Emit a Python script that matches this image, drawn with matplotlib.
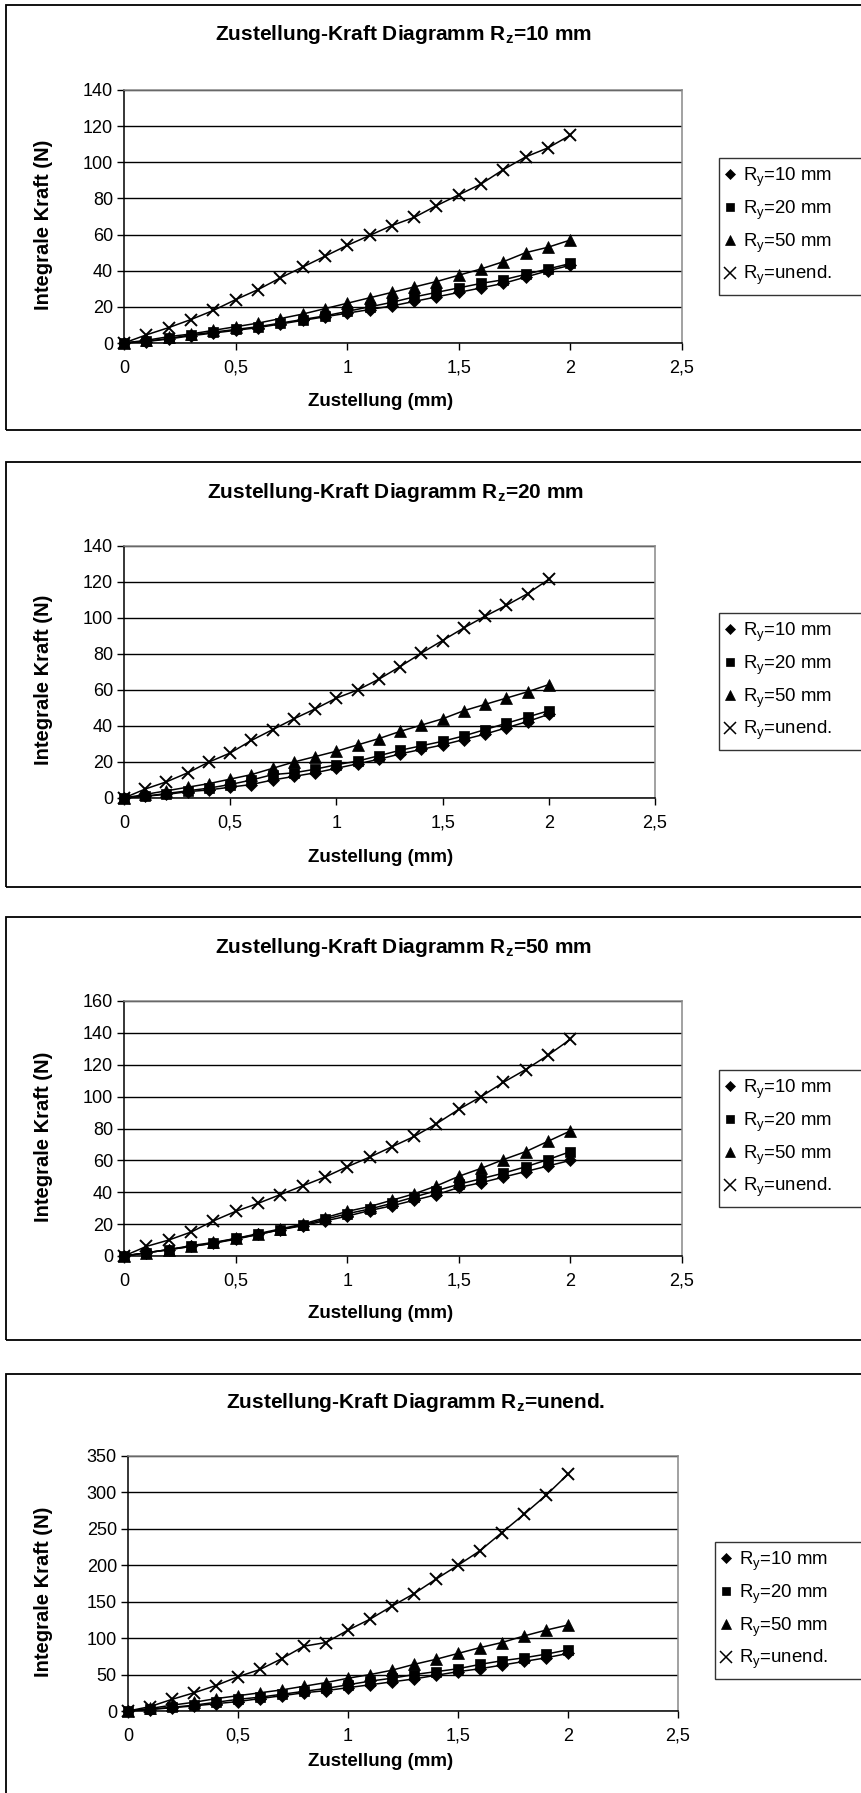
#Zustellung-Kraft Diagramme
#Four stacked Excel-style charts: integral force vs. feed for different radii

import numpy as np
import matplotlib
matplotlib.use('Agg')
import matplotlib.pyplot as plt
from matplotlib.lines import Line2D
from matplotlib.patches import Rectangle

plt.rcParams['font.family'] = ['Liberation Sans', 'DejaVu Sans']
plt.rcParams['mathtext.fontset'] = 'custom'
plt.rcParams['mathtext.rm'] = 'Liberation Sans'
plt.rcParams['mathtext.bf'] = 'Liberation Sans:bold'

#Data
zustellung = [0, 0.1, 0.2, 0.3, 0.4, 0.5, 0.6, 0.7, 0.8, 0.9, 1.0,
              1.1, 1.2, 1.3, 1.4, 1.5, 1.6, 1.7, 1.8, 1.9, 2.0]

series_names = ['10 mm', '20 mm', '50 mm', 'unend.']
panel_names = ['10 mm', '20 mm', '50 mm', 'unend.']

#Rz = 10 mm
rz10_ry10 = [0, 0.8, 2.2, 4, 5.5, 7, 8.5, 10.5, 12.5, 14.5, 16.5, 18.5, 20.5, 23, 25.5, 28, 30.5, 33, 36.5, 40, 43]
rz10_ry20 = [0, 1, 2.5, 4.5, 6, 7.5, 9, 11, 13, 15, 17.5, 20, 22.5, 25.5, 28, 30.5, 33, 35, 38, 41, 44]
rz10_ry50 = [0, 1.5, 3.5, 5, 7, 9, 11, 13.5, 16, 19, 22, 25, 28, 31, 34, 37.5, 41, 45, 50, 53, 57]
rz10_inf = [0, 4.5, 8.5, 13, 18, 24, 29.5, 36, 42, 48, 54, 59.5, 65, 69.5, 76, 82, 88, 96, 103, 108, 115]

#Rz = 20 mm
rz20_ry10 = [0, 1, 2, 3.5, 4.5, 6, 7.5, 10, 12, 14, 16.5, 19, 21.5, 24.5, 27, 29.5, 32.5, 35.5, 39, 42.5, 46.5]
rz20_ry20 = [0, 1, 2.5, 4, 5.5, 7.5, 10, 13, 14, 16, 18.5, 20.5, 23.5, 26.5, 29, 31.5, 34.5, 38, 41.5, 45, 48.5]
rz20_ry50 = [0, 2, 4, 6, 8, 10.5, 13, 16.5, 20, 23, 26, 29.5, 33, 37, 40.5, 44, 48.5, 52, 55.5, 59, 63]
rz20_inf = [0, 5, 9, 14, 20, 25, 32, 38, 44, 49.5, 55.5, 60, 66, 73, 80.5, 87.5, 94.5, 101, 107, 113.5, 121.5]

#Rz = 50 mm
rz50_ry10 = [0, 2, 4, 6, 8, 10.5, 13.5, 16.5, 19, 22, 25, 28.5, 31.5, 35, 38.5, 43, 46, 49.5, 53, 56.5, 60]
rz50_ry20 = [0, 2, 4, 6, 8, 11, 13.5, 16.5, 19.5, 23, 26.5, 29.5, 33, 37, 41, 45, 48.5, 52, 56, 60.5, 65.5]
rz50_ry50 = [0, 2, 4, 6.5, 8.5, 11, 14, 17, 20, 24, 28, 31, 35, 39, 44, 50, 55, 60.5, 65.5, 72, 78.5]
rz50_inf = [0, 6, 10, 15, 22, 28, 33, 38.5, 44, 49.5, 56, 62, 68.5, 75, 83, 92, 100, 109, 117, 126, 136]

#Rz = unend.
rzinf_ry10 = [0, 2, 4.5, 7, 10, 13, 17, 21, 25, 28, 32, 36, 40, 44, 49, 54, 58, 63, 68, 73, 79]
rzinf_ry20 = [0, 2.5, 5, 8, 12, 16, 19, 23, 27, 31, 36, 41, 45, 50, 54, 58, 64, 69, 73, 78, 84]
rzinf_ry50 = [0, 3.5, 8, 12, 17, 21, 25, 29, 34, 39, 45, 50, 56, 64, 71, 79, 87, 94, 103, 111, 118]
rzinf_inf = [0, 6, 16, 25, 35, 47, 57, 72, 89, 94, 111, 126, 144, 161, 181, 200, 220, 245, 270, 296, 325]

panel_data = [
    [rz10_ry10, rz10_ry20, rz10_ry50, rz10_inf],
    [rz20_ry10, rz20_ry20, rz20_ry50, rz20_inf],
    [rz50_ry10, rz50_ry20, rz50_ry50, rz50_inf],
    [rzinf_ry10, rzinf_ry20, rzinf_ry50, rzinf_inf],
]
y_max = [140, 140, 160, 350]
y_step = [20, 20, 20, 50]

#Layout in pixels (figure 862 x 1793)
W, H = 862, 1793
# plot area: x0, x1, y_top, y_bottom
plot_px = [(124, 682, 90, 343), (124, 655, 546, 798),
           (124, 682, 1001, 1256), (128, 678, 1456, 1711)]
border_px = [(6, 5, 430), (6, 462, 887), (6, 917, 1340), (6, 1374, 1805)]
title_px = [(404, 34), (396, 493), (404, 948), (416, 1403)]
xlabel_py = [402, 857, 1313, 1762]
legend_px = [(719, 158), (719, 613), (719, 1070), (715, 1542)]

markers = [('D', 6.5), ('s', 7), ('^', 8), ('x', 9)]

fig = plt.figure(figsize=(W / 100, H / 100), dpi=100)

for i in range(4):
    # panel border
    bx, by0, by1 = border_px[i]
    fig.patches.append(Rectangle((bx / W, 1 - by1 / H), (W + 20 - bx) / W, (by1 - by0) / H,
                                 transform=fig.transFigure, fill=False,
                                 edgecolor='black', linewidth=1.3, clip_on=False))

    x0, x1, yt, yb = plot_px[i]
    ax = fig.add_axes([x0 / W, 1 - yb / H, (x1 - x0) / W, (yb - yt) / H])

    for s in range(4):
        m, ms = markers[s]
        ax.plot(zustellung, panel_data[i][s], color='black', linewidth=1.1,
                marker=m, markersize=ms, markeredgewidth=1.4 if m == 'x' else 0.5,
                markerfacecolor='black', markeredgecolor='black', clip_on=False, zorder=3)

    ax.set_xlim(0, 2.5)
    ax.set_ylim(0, y_max[i])
    ax.set_xticks(np.arange(0, 2.51, 0.5))
    ax.set_xticklabels(['0', '0,5', '1', '1,5', '2', '2,5'])
    ax.set_yticks(np.arange(0, y_max[i] + 1, y_step[i]))
    ax.tick_params(direction='out', length=5, width=1, labelsize=13, colors='black')
    ax.tick_params(axis='y', pad=3)
    ax.tick_params(axis='x', pad=7)
    ax.set_axisbelow(True)
    ax.yaxis.grid(True, color='black', linewidth=1)
    ax.spines['top'].set_color('#888888')
    ax.spines['right'].set_color('#888888')
    ax.spines['left'].set_color('black')
    ax.spines['bottom'].set_color('black')
    for sp in ax.spines.values():
        sp.set_linewidth(1.1)

    tx, ty = title_px[i]
    fig.text(tx / W, 1 - ty / H, 'Zustellung-Kraft Diagramm R$_\\mathbf{z}$=' + panel_names[i],
             ha='center', va='center', fontsize=15, fontweight='bold')
    fig.text(381 / W, 1 - xlabel_py[i] / H, 'Zustellung (mm)',
             ha='center', va='center', fontsize=13.5, fontweight='bold')
    fig.text(44 / W, 1 - ((yt + yb) / 2 + 8) / H, 'Integrale Kraft (N)', rotation=90,
             ha='center', va='center', fontsize=14.5, fontweight='bold')

    handles = []
    for s in range(4):
        m, ms = markers[s]
        handles.append(Line2D([], [], linestyle='none', marker=m, markersize=ms - 1,
                              color='black', markeredgewidth=1.1 if m == 'x' else 0.5,
                              label='R$_\\mathregular{y}$=' + series_names[s]))
    lx, ly = legend_px[i]
    leg = fig.legend(handles=handles, loc='upper left',
                     bbox_to_anchor=(lx / W, 1 - ly / H, (W + 20 - lx) / W, 0),
                     mode='expand', fontsize=13.4, frameon=True, fancybox=False,
                     borderpad=0.4, labelspacing=0.5, handlelength=0.4,
                     handletextpad=0.5, borderaxespad=0)
    leg.get_frame().set_edgecolor('black')
    leg.get_frame().set_linewidth(1.0)

plt.savefig('out.png', dpi=100)
